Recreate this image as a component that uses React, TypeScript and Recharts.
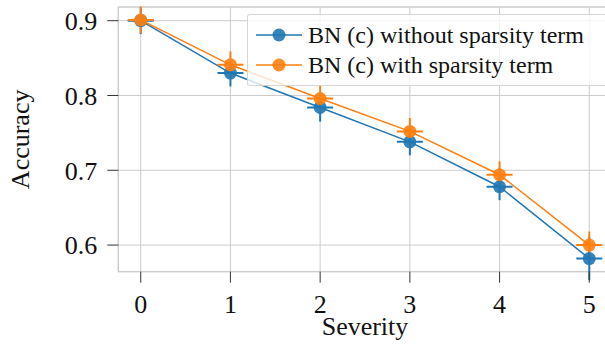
import React from "react";
import {
  ScatterChart,
  Scatter,
  XAxis,
  YAxis,
  CartesianGrid,
  ErrorBar,
  Legend,
  Label,
  ReferenceArea,
} from "recharts";

const severity = [0, 1, 2, 3, 4, 5];
const accWithout = [0.9, 0.83, 0.784, 0.738, 0.678, 0.582];
const errWithout = [0.018, 0.018, 0.019, 0.018, 0.018, 0.029];
const accWith = [0.901, 0.841, 0.796, 0.752, 0.694, 0.6];
const errWith = [0.018, 0.018, 0.018, 0.018, 0.018, 0.018];
const xTicks = [0, 1, 2, 3, 4, 5];
const yTicks = [0.6, 0.7, 0.8, 0.9];

const BLUE = "#1f77b4";
const ORANGE = "#ff7f0e";
const FONT = '"Liberation Serif", "Times New Roman", serif';

const X_DOMAIN: [number, number] = [-0.25, 5.25];
const Y_DOMAIN: [number, number] = [0.5644, 0.9183];

const series = [
  { name: "BN (c) without sparsity term", color: BLUE, data: severity.map((x, i) => ({ x, y: accWithout[i], err: errWithout[i] })) },
  { name: "BN (c) with sparsity term", color: ORANGE, data: severity.map((x, i) => ({ x, y: accWith[i], err: errWith[i] })) },
];

// circle marker with a short horizontal bar through it
function crossMarker(color: string) {
  return (props: any) => {
    const { cx, cy } = props;
    return (
      <g>
        <circle cx={cx} cy={cy} r={6.5} fill={color} fillOpacity={0.9} />
        <line x1={cx - 13} x2={cx + 13} y1={cy} y2={cy} stroke={color} strokeWidth={2} />
      </g>
    );
  };
}

function LegendBox() {
  return (
    <div
      style={{
        background: "rgba(255,255,255,0.8)",
        border: "1px solid rgba(204,204,204,0.8)",
        borderRadius: 3,
        width: 360,
        height: 72,
        boxSizing: "border-box",
        paddingTop: 5,
      }}
    >
      {series.map((s) => (
        <div key={s.name} style={{ display: "flex", alignItems: "center", height: 30 }}>
          <svg width={60} height={20} style={{ flex: "none" }}>
            <line x1={8} x2={54} y1={10} y2={10} stroke={s.color} strokeWidth={1.5} />
            <circle cx={31} cy={10} r={6.5} fill={s.color} fillOpacity={0.9} />
          </svg>
          <span style={{ fontFamily: FONT, fontSize: 24, color: "#111", whiteSpace: "nowrap" }}>{s.name}</span>
        </div>
      ))}
    </div>
  );
}

export default function App() {
  const tickStyle = { fontFamily: FONT, fontSize: 26, fill: "#111" };
  return (
    <div style={{ position: "absolute", left: 0, top: 0, width: 605, height: 347, overflow: "hidden", background: "#fff" }}>
      <ScatterChart width={620} height={347} margin={{ top: 7, right: 8.3, bottom: 0, left: 0 }}>
        <CartesianGrid stroke="#cccccc" strokeWidth={1} />
        <ReferenceArea x1={X_DOMAIN[0]} x2={X_DOMAIN[1]} y1={Y_DOMAIN[0]} y2={Y_DOMAIN[1]} fill="none" stroke="#cccccc" strokeWidth={1.2} />
        <XAxis
          type="number"
          dataKey="x"
          domain={X_DOMAIN}
          ticks={xTicks}
          allowDataOverflow
          height={75.3}
          axisLine={false}
          tickLine={{ stroke: "#333" }}
          tickSize={11}
          tickMargin={12}
          tick={tickStyle}
        >
          <Label value="Severity" position="insideBottom" offset={12} style={{ fontFamily: FONT, fontSize: 26, fill: "#111" }} />
        </XAxis>
        <YAxis
          type="number"
          dataKey="y"
          domain={Y_DOMAIN}
          ticks={yTicks}
          allowDataOverflow
          width={118.3}
          axisLine={false}
          tickLine={{ stroke: "#333" }}
          tickSize={11}
          tickMargin={10}
          tick={tickStyle}
          tickFormatter={(v: number) => v.toFixed(1)}
        >
          <Label
            content={(props: any) => {
              const vb = props.viewBox || {};
              const cy = (vb.y ?? 7) + (vb.height ?? 264) / 2;
              return (
                <text x={29} y={cy} transform={`rotate(-90 29 ${cy})`} textAnchor="middle" style={{ fontFamily: FONT, fontSize: 26, fill: "#111" }}>
                  Accuracy
                </text>
              );
            }}
          />
        </YAxis>
        {series.map((s) => (
          <Scatter
            key={s.name}
            name={s.name}
            data={s.data}
            fill={s.color}
            line={{ stroke: s.color, strokeWidth: 1.5 }}
            lineType="joint"
            shape={crossMarker(s.color)}
            isAnimationActive={false}
          >
            <ErrorBar dataKey="err" direction="y" width={0} stroke={s.color} strokeWidth={2} />
          </Scatter>
        ))}
        <Legend
          layout="vertical"
          align="center"
          verticalAlign="middle"
          content={() => <LegendBox />}
          wrapperStyle={{ position: "absolute", left: 247, top: 14, width: 360, height: 72 }}
        />
      </ScatterChart>
    </div>
  );
}
